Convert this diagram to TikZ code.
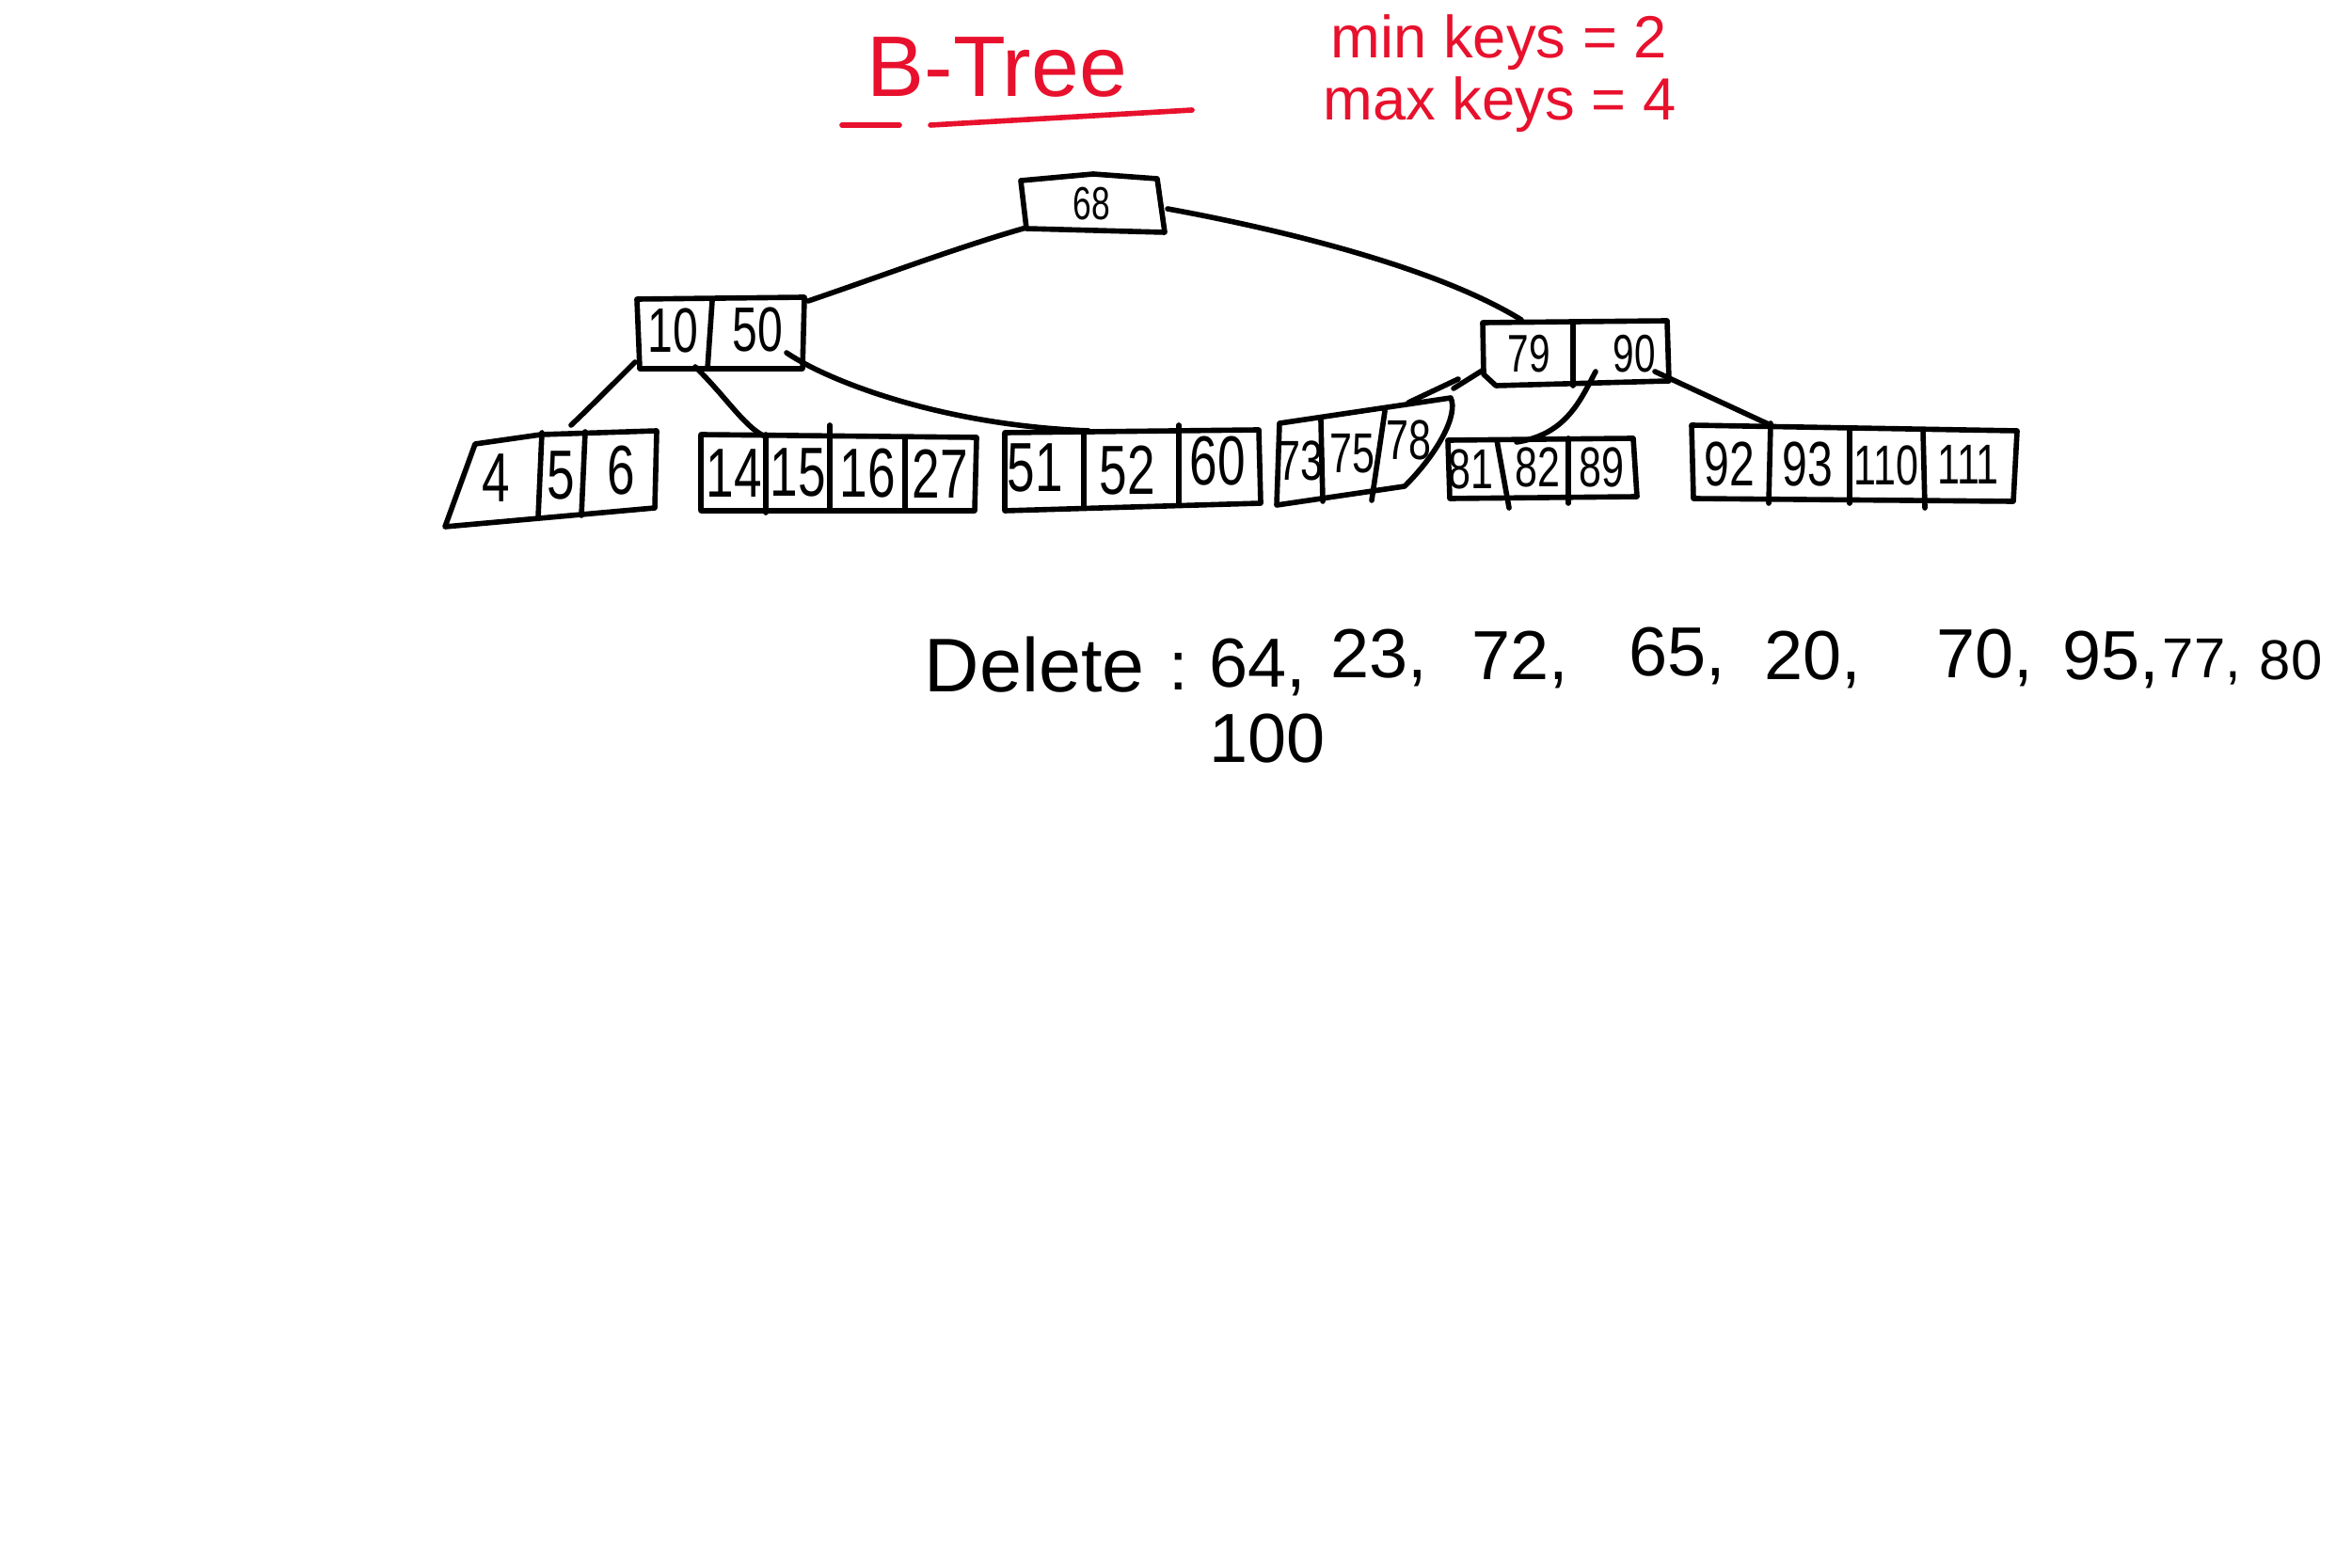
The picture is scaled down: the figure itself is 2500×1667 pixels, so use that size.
\documentclass[tikz,border=0pt]{standalone}
\usepackage{fontspec}
\setmainfont{Liberation Sans}
\newfontfamily\hand[FakeStretch=0.72]{Liberation Sans}
\definecolor{pen}{RGB}{232,17,45}
\begin{document}
\begin{tikzpicture}[x=0.01cm,y=-0.01cm,line width=1.6pt,line cap=round,line join=round,
  keyA/.style={inner sep=0pt,font=\hand\fontsize{21pt}{24pt}\selectfont},
  keyB/.style={inner sep=0pt,font=\hand\fontsize{17pt}{20pt}\selectfont},
  keyC/.style={inner sep=0pt,font=\hand\fontsize{14pt}{16pt}\selectfont},
  redtxt/.style={inner sep=0pt,text=pen,font=\fontsize{18pt}{20pt}\selectfont},
  deltxt/.style={inner sep=0pt,anchor=base west,font=\fontsize{21pt}{24pt}\selectfont},
  link/.style={draw=black}]
\useasboundingbox (0,0) rectangle (2500,1667);
\fill[white] (0,0) rectangle (2500,1667);

% ---------- title (red) ----------
\node[redtxt,font=\fontsize{26pt}{30pt}\selectfont,anchor=base] (title) at (1060,103) {B-Tree};
\draw[pen] (895,133) -- (956,133);
\draw[pen] (989,133) -- (1267,117);
\node[redtxt,anchor=base west] (minkeys) at (1412,62) {min keys = 2};
\node[redtxt,anchor=base west] (maxkeys) at (1404,128) {max keys = 4};

% ---------- root ----------
\draw (1085,192) -- (1162,185) -- (1230,190) -- (1238,247) -- (1091,243) -- cycle;
\node[keyC] (k68) at (1160,217) {68};
\coordinate (rootL) at (1091,242);
\coordinate (rootR) at (1241,222);

% ---------- node A ----------
\draw (677,318) -- (855,316) -- (853,392) -- (680,392) -- cycle;
\draw (757,320) -- (752,392);
\node[keyA,font=\hand\fontsize{19pt}{22pt}\selectfont] (k10) at (715,352) {10};
\node[keyA,font=\hand\fontsize{19pt}{22pt}\selectfont] (k50) at (805,350) {50};
\coordinate (aTR) at (859,320);
\coordinate (aBL) at (675,385);
\coordinate (aBM) at (739,390);
\coordinate (aBR) at (836,375);

% ---------- node B ----------
\draw (1576,343) -- (1772,341) -- (1774,405) -- (1590,410) -- (1577,398) -- cycle;
\draw (1672,342) -- (1672,410);
\node[keyB,font=\hand\fontsize{16pt}{18pt}\selectfont] (k79) at (1625,376) {79};
\node[keyB,font=\hand\fontsize{16pt}{18pt}\selectfont] (k90) at (1737,376) {90};
\coordinate (bT) at (1617,340);
\coordinate (bBL) at (1577,393);
\coordinate (bBM) at (1696,395);
\coordinate (bBR) at (1759,395);

% ---------- leaf 1 ----------
\draw (505,472) -- (575,462) -- (698,458) -- (696,540) -- (473,560) -- cycle;
\draw (576,460) -- (572,550);
\draw (622,459) -- (618,548);
\node[keyA] (k4) at (527,508) {4};
\node[keyA] (k5) at (596,505) {5};
\node[keyA] (k6) at (660,500) {6};
\coordinate (l1T) at (607,452);

% ---------- leaf 2 ----------
\draw (745,462) -- (1038,465) -- (1036,543) -- (745,543) -- cycle;
\draw (814,462) -- (814,545);
\draw (882,452) -- (882,540);
\draw (962,465) -- (962,542);
\node[keyA] (k14) at (780,503) {14};
\node[keyA] (k15) at (848,502) {15};
\node[keyA] (k16) at (922,503) {16};
\node[keyA] (k27) at (999,504) {27};
\coordinate (l2T) at (811,463);

% ---------- leaf 3 ----------
\draw (1068,460) -- (1338,457) -- (1340,535) -- (1068,543) -- cycle;
\draw (1152,460) -- (1152,540);
\draw (1253,452) -- (1253,537);
\node[keyA] (k51) at (1100,497) {51};
\node[keyA] (k52) at (1198,500) {52};
\node[keyA] (k60) at (1294,490) {60};
\coordinate (l3T) at (1157,458);

% ---------- leaf 4 ----------
\draw (1360,450) -- (1542,423) .. controls (1550,440) and (1530,480) .. (1493,517) -- (1357,537) -- cycle;
\draw (1404,447) -- (1406,533);
\draw (1472,437) -- (1458,532);
\node[keyB] (k73) at (1382,490) {73};
\node[keyB] (k75) at (1437,482) {75};
\node[keyB] (k78) at (1497,468) {78};
\coordinate (l4T) at (1545,413);
\coordinate (l4Tb) at (1497,428);
\coordinate (l4Tc) at (1550,403);

% ---------- leaf 5 ----------
\draw (1539,468) -- (1736,466) -- (1740,528) -- (1541,530) -- cycle;
\draw (1591,468) -- (1604,540);
\draw (1667,466) -- (1667,535);
\node[keyB] (k81) at (1563,499) {81};
\node[keyB] (k82) at (1634,497) {82};
\node[keyB] (k89) at (1702,497) {89};
\coordinate (l5T) at (1612,470);

% ---------- leaf 6 ----------
\draw (1798,452) -- (2144,458) -- (2140,533) -- (1800,530) -- cycle;
\draw (1882,450) -- (1880,535);
\draw (1966,455) -- (1966,535);
\draw (2044,457) -- (2046,540);
\node[keyA,font=\hand\fontsize{19pt}{22pt}\selectfont] (k92) at (1838,494) {92};
\node[keyA,font=\hand\fontsize{19pt}{22pt}\selectfont] (k93) at (1921,494) {93};
\node[keyA,font=\hand\fontsize{17pt}{20pt}\selectfont] (k110) at (2005,495) {110};
\node[keyA,font=\hand\fontsize{17pt}{20pt}\selectfont] (k111) at (2092,494) {111};
\coordinate (l6T) at (1882,452);

% ---------- connectors ----------
\draw[link] (rootL) .. controls (1020,262) and (930,296) .. (aTR);
\draw[link] (rootR) .. controls (1340,240) and (1520,280) .. (bT);
\draw[link] (aBL) .. controls (650,410) and (625,435) .. (l1T);
\draw[link] (aBM) .. controls (770,420) and (790,452) .. (l2T);
\draw[link] (aBR) .. controls (880,405) and (1000,452) .. (l3T);
\draw[link] (bBL) -- (l4T);
\draw[link] (l4Tb) -- (l4Tc);
\draw[link] (bBM) .. controls (1680,425) and (1665,462) .. (l5T);
\draw[link] (bBR) -- (l6T);

% ---------- delete list ----------
\node[deltxt,font=\fontsize{23pt}{26pt}\selectfont] (del) at (980,735) {Delete};
\node[deltxt] (colon) at (1240,733) {:};
\node[deltxt] (d64) at (1283,730) {64,};
\node[deltxt] (d23) at (1412,720) {23,};
\node[deltxt] (d72) at (1562,722) {72,};
\node[deltxt] (d65) at (1729,718) {65,};
\node[deltxt] (d20) at (1873,722) {20,};
\node[deltxt] (d70) at (2056,720) {70,};
\node[deltxt] (d95) at (2190,722) {95,};
\node[deltxt,font=\fontsize{17pt}{20pt}\selectfont] (d77) at (2296,720) {77,};
\node[deltxt,font=\fontsize{17pt}{20pt}\selectfont] (d80) at (2399,722) {80};
\node[deltxt] (d100) at (1283,810) {100};
\end{tikzpicture}
\end{document}
